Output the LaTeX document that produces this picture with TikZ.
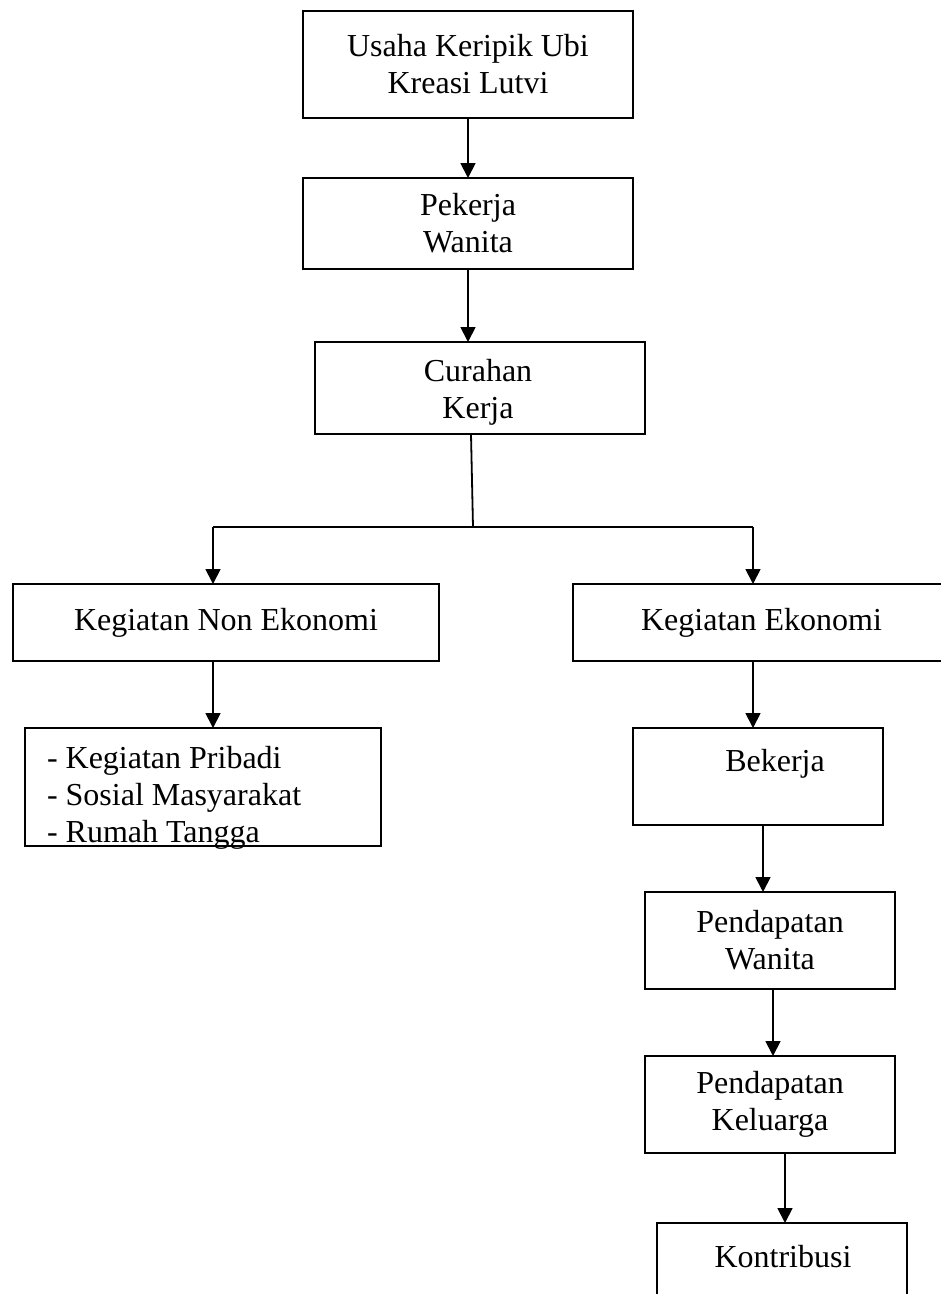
\documentclass[tikz,border=0pt]{standalone}
\usepackage{fontspec}
\setmainfont{Liberation Serif}
\usetikzlibrary{arrows.meta}
\tikzset{
  box/.style={draw, line width=1.8pt, inner sep=0pt, outer sep=0pt, rectangle, align=center,
    font=\fontsize{32}{37}\selectfont},
  txt/.style={inner sep=0pt, outer sep=0pt, align=center, font=\fontsize{32}{37}\selectfont},
  arr/.style={line width=1.8pt, -{Triangle[width=15pt,length=15pt]}},
  ln/.style={line width=1.8pt}
}
\begin{document}
\begin{tikzpicture}[x=1pt,y=-1pt]
\useasboundingbox (0,0) rectangle (941,1294);
\clip (0,0) rectangle (941,1294);
\fill[white] (0,0) rectangle (941,1294);
% boxes
\node[box, minimum width=330pt, minimum height=107pt] (usaha) at (468,64.5) {Usaha Keripik Ubi\\Kreasi Lutvi};
\node[box, minimum width=330pt, minimum height=91pt] (pek) at (468,223.5) {Pekerja\\Wanita};
\node[box, minimum width=330pt, minimum height=92pt] (cur) at (480,388) {};
\node[txt] (tcur) at (478,392) {Curahan\\Kerja};
\node[box, minimum width=426pt, minimum height=77pt] (nonek) at (226,622.5) {Kegiatan Non Ekonomi};
\node[box, minimum width=377pt, minimum height=77pt] (eko) at (761.5,622.5) {Kegiatan Ekonomi};
\node[box, minimum width=356pt, minimum height=118pt] (list) at (203,787) {};
\node[txt, anchor=west, align=left] (tlist) at (47,798) {- Kegiatan Pribadi\\- Sosial Masyarakat\\- Rumah Tangga};
\node[box, minimum width=250pt, minimum height=97pt] (bek) at (758,776.5) {};
\node[txt] (tbek) at (775,764) {Bekerja};
\node[box, minimum width=250pt, minimum height=97pt] (pw) at (770,940.5) {Pendapatan\\Wanita};
\node[box, minimum width=250pt, minimum height=97pt] (pk) at (770,1104.5) {Pendapatan\\Keluarga};
\node[box, minimum width=250pt, minimum height=100pt] (kon) at (782,1273) {};
\node[txt] (tkon) at (783,1257) {Kontribusi};
% connectors
\draw[arr] (usaha.south) -- (pek.north);
\draw[arr] (pek.south) -- (pek.south |- cur.north);
\coordinate (split) at (473,527);
\draw[ln] ([xshift=-9pt]cur.south) -- (split);
\coordinate (nA) at ([xshift=-13pt]nonek.north);
\coordinate (eA) at ([xshift=-8.5pt]eko.north);
\draw[ln] (split) -- (split -| nA);
\draw[ln] (split) -- (split -| eA);
\draw[arr] (split -| nA) -- (nA);
\draw[arr] (split -| eA) -- (eA);
\draw[arr] (nonek.south -| nA) -- (list.north -| nA);
\draw[arr] (eko.south -| eA) -- (bek.north -| eA);
\coordinate (b2) at ([xshift=-7pt]pw.north);
\draw[arr] (bek.south -| b2) -- (b2);
\coordinate (b3) at ([xshift=3pt]pk.north);
\draw[arr] (pw.south -| b3) -- (b3);
\coordinate (b4) at ([xshift=3pt]kon.north);
\draw[arr] (pk.south -| b4) -- (b4);
\end{tikzpicture}
\end{document}
